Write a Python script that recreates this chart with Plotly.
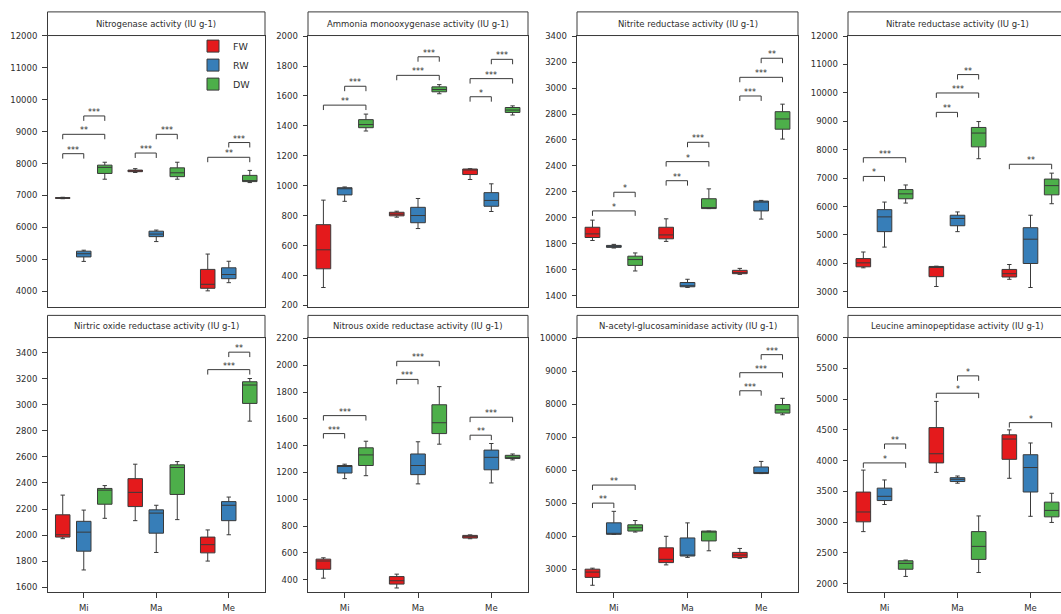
import plotly.graph_objects as go

W, H = 1061, 614

GROUPS = ["Mi", "Ma", "Me"]
TREATMENTS = ["FW", "RW", "DW"]
FILL = {"FW": "#E41A1C", "RW": "#377EB8", "DW": "#4DAF4A"}
OFFSET = {"FW": -0.29, "RW": 0.0, "DW": 0.29}

TITLES = [
    "Nitrogenase activity (IU g-1)",
    "Ammonia monooxygenase activity (IU g-1)",
    "Nitrite reductase activity (IU g-1)",
    "Nitrate reductase activity (IU g-1)",
    "Nirtric oxide reductase activity (IU g-1)",
    "Nitrous oxide reductase activity (IU g-1)",
    "N-acetyl-glucosaminidase activity (IU g-1)",
    "Leucine aminopeptidase activity (IU g-1)",
]

# Five-number summaries per group (Mi, Ma, Me):
# (lower whisker, q1, median, q3, upper whisker)
nitrogenase = {
    "FW": [(6900, 6910, 6925, 6935, 6945), (7720, 7745, 7770, 7795, 7840), (4020, 4100, 4225, 4690, 5170)],
    "RW": [(4940, 5080, 5180, 5260, 5290), (5560, 5715, 5795, 5885, 5920), (4275, 4400, 4530, 4740, 4945)],
    "DW": [(7510, 7690, 7880, 7950, 8040), (7510, 7590, 7710, 7865, 8040), (7405, 7435, 7455, 7630, 7785)],
}
ammonia_monooxygenase = {
    "FW": [(320, 445, 572, 740, 904), (790, 799, 810, 823, 830), (1042, 1075, 1108, 1112, 1114)],
    "RW": [(896, 939, 980, 987, 992), (714, 753, 801, 856, 915), (828, 863, 902, 954, 1013)],
    "DW": [(1366, 1388, 1409, 1442, 1479), (1615, 1628, 1643, 1661, 1676), (1473, 1490, 1506, 1523, 1534)],
}
nitrite_reductase = {
    "FW": [(1825, 1848, 1876, 1927, 1982), (1818, 1838, 1868, 1927, 1992), (1564, 1569, 1577, 1595, 1610)],
    "RW": [(1767, 1772, 1780, 1787, 1795), (1463, 1468, 1476, 1501, 1526), (1990, 2053, 2121, 2129, 2134)],
    "DW": [(1590, 1633, 1678, 1704, 1729), (2071, 2071, 2073, 2147, 2223), (2607, 2683, 2762, 2818, 2876)],
}
nitrate_reductase = {
    "FW": [(3843, 3878, 4017, 4167, 4399), (3184, 3531, 3880, 3890, 3900), (3438, 3519, 3635, 3785, 3959)],
    "RW": [(4572, 5116, 5636, 5891, 6157), (5116, 5324, 5579, 5694, 5810), (3149, 3994, 4850, 5255, 5694)],
    "DW": [(6122, 6273, 6446, 6597, 6759), (7684, 8101, 8587, 8784, 8992), (6099, 6412, 6736, 6967, 7175)],
}
nitric_oxide_reductase = {
    "FW": [(1973, 1985, 2003, 2156, 2307), (2111, 2219, 2328, 2433, 2544), (1801, 1864, 1927, 1985, 2040)],
    "RW": [(1733, 1877, 2023, 2106, 2192), (1867, 2015, 2169, 2194, 2229), (2003, 2111, 2229, 2257, 2292)],
    "DW": [(2129, 2237, 2345, 2358, 2380), (2119, 2312, 2519, 2539, 2564), (2874, 3010, 3151, 3176, 3201)],
}
nitrous_oxide_reductase = {
    "FW": [(412, 478, 540, 554, 564), (339, 368, 393, 424, 442), (706, 711, 721, 731, 735)],
    "RW": [(1154, 1196, 1245, 1252, 1262), (1115, 1184, 1252, 1338, 1429), (1122, 1220, 1313, 1367, 1416)],
    "DW": [(1176, 1252, 1331, 1384, 1433), (1411, 1490, 1571, 1705, 1840), (1294, 1304, 1313, 1328, 1338)],
}
n_acetyl_glucosaminidase = {
    "FW": [(2512, 2751, 2911, 3000, 3030), (3130, 3199, 3298, 3647, 3996), (3329, 3349, 3428, 3508, 3628)],
    "RW": [(4056, 4056, 4076, 4404, 4753), (3357, 3399, 3429, 3946, 4403), (5898, 5898, 5918, 6097, 6266)],
    "DW": [(4125, 4155, 4255, 4344, 4474), (3557, 3856, 4150, 4155, 4155), (7680, 7730, 7829, 7989, 8178)],
}
leucine_aminopeptidase = {
    "FW": [(2846, 3005, 3165, 3489, 3846), (3809, 3963, 4112, 4537, 4963), (3713, 4021, 4351, 4420, 4500)],
    "RW": [(3287, 3351, 3420, 3553, 3686), (3633, 3660, 3697, 3723, 3750), (3095, 3490, 3888, 4096, 4287)],
    "DW": [(2117, 2234, 2330, 2372, 2383), (2181, 2394, 2606, 2846, 3101), (2995, 3086, 3191, 3325, 3469)],
}

# Significance brackets: (group index, treatment A, treatment B, bracket height, label)
nitrogenase_sig = [(0, "FW", "RW", 8308, "***"), (0, "FW", "DW", 8913, "**"), (0, "RW", "DW", 9487, "***"),
                   (1, "FW", "RW", 8328, "***"), (1, "RW", "DW", 8913, "***"),
                   (2, "FW", "DW", 8195, "**"), (2, "RW", "DW", 8656, "***")]
ammonia_monooxygenase_sig = [(0, "FW", "DW", 1539, "**"), (0, "RW", "DW", 1665, "***"),
                             (1, "FW", "DW", 1738, "***"), (1, "RW", "DW", 1862, "***"),
                             (2, "FW", "RW", 1595, "*"), (2, "FW", "DW", 1716, "***"), (2, "RW", "DW", 1845, "***")]
nitrite_reductase_sig = [(0, "FW", "DW", 2053, "*"), (0, "RW", "DW", 2197, "*"),
                         (1, "FW", "RW", 2286, "**"), (1, "FW", "DW", 2433, "*"), (1, "RW", "DW", 2582, "***"),
                         (2, "FW", "RW", 2939, "***"), (2, "FW", "DW", 3083, "***"), (2, "RW", "DW", 3230, "**")]
nitrate_reductase_sig = [(0, "FW", "RW", 7060, "*"), (0, "FW", "DW", 7719, "***"),
                         (1, "FW", "RW", 9316, "**"), (1, "FW", "DW", 9998, "***"), (1, "RW", "DW", 10646, "**"),
                         (2, "FW", "DW", 7488, "**")]
nitric_oxide_reductase_sig = [(2, "FW", "DW", 3269, "***"), (2, "RW", "DW", 3403, "**")]
nitrous_oxide_reductase_sig = [(0, "FW", "RW", 1490, "***"), (0, "FW", "DW", 1624, "***"),
                               (1, "FW", "RW", 1894, "***"), (1, "FW", "DW", 2029, "***"),
                               (2, "FW", "RW", 1478, "**"), (2, "FW", "DW", 1612, "***")]
n_acetyl_glucosaminidase_sig = [(0, "FW", "RW", 5002, "**"), (0, "FW", "DW", 5549, "**"),
                                (2, "FW", "RW", 8407, "***"), (2, "FW", "DW", 8955, "***"), (2, "RW", "DW", 9502, "***")]
leucine_aminopeptidase_sig = [(0, "FW", "DW", 3963, "*"), (0, "RW", "DW", 4271, "**"),
                              (1, "FW", "DW", 5096, "*"), (1, "RW", "DW", 5378, "*"),
                              (2, "FW", "DW", 4618, "*")]

PANELS = [nitrogenase, ammonia_monooxygenase, nitrite_reductase, nitrate_reductase,
          nitric_oxide_reductase, nitrous_oxide_reductase, n_acetyl_glucosaminidase, leucine_aminopeptidase]
SIGS = [nitrogenase_sig, ammonia_monooxygenase_sig, nitrite_reductase_sig, nitrate_reductase_sig,
        nitric_oxide_reductase_sig, nitrous_oxide_reductase_sig, n_acetyl_glucosaminidase_sig,
        leucine_aminopeptidase_sig]

# Axis settings: (range min, range max, tick0, dtick)
Y_AXES = [(3530, 12001, 4000, 1000), (193, 2004, 200, 200), (1316, 3405, 1400, 200), (2480, 12020, 3000, 1000),
          (1562, 3515, 1600, 200), (307, 2206, 400, 200), (2300, 10020, 3000, 1000), (1860, 6001, 2000, 500)]

# Panel geometry in pixels
COLS_X = [(47.5, 265.0), (308.0, 528.0), (577.0, 798.0), (848.0, 1067.0)]
ROWS_Y = [(31.0, 306.0), (337.5, 596.0)]
STRIP_TOP = [7.0, 315.0]

LINE = "#3a3a3a"
TEXT = "#2e2e2e"
FONT = "DejaVu Sans"

fig = go.Figure()
layout = {}
shapes, annotations = [], []

for i, (stats, sigs, title) in enumerate(zip(PANELS, SIGS, TITLES)):
    n = i + 1
    row, col = divmod(i, 4)
    x0p, x1p = COLS_X[col]
    y0p, y1p = ROWS_Y[row]
    vis_x1 = min(x1p, W)
    xr_max = -0.5 + 3.0 * (vis_x1 - x0p) / (x1p - x0p)
    xname = "x" if n == 1 else f"x{n}"
    yname = "y" if n == 1 else f"y{n}"

    for t in TREATMENTS:
        s = stats[t]
        fig.add_trace(go.Box(
            x=[g + OFFSET[t] for g in range(len(GROUPS))],
            lowerfence=[v[0] for v in s], q1=[v[1] for v in s], median=[v[2] for v in s],
            q3=[v[3] for v in s], upperfence=[v[4] for v in s],
            name=t, legendgroup=t, showlegend=(n == 1),
            fillcolor=FILL[t], line=dict(color=LINE, width=1),
            width=0.2, whiskerwidth=0.3, boxpoints=False,
            xaxis=xname, yaxis=yname, hoverinfo="skip",
        ))

    ymin, ymax, t0, dt = Y_AXES[i]
    layout["xaxis" if n == 1 else f"xaxis{n}"] = dict(
        domain=[x0p / W, vis_x1 / W], range=[-0.5, xr_max], type="linear",
        anchor=yname, showgrid=False, zeroline=False,
        showline=True, mirror=True, linecolor=LINE, linewidth=1,
        tickvals=list(range(len(GROUPS))), ticktext=GROUPS,
        ticks="outside" if row == 1 else "", ticklen=4.5, tickcolor=LINE,
        ticklabelstandoff=3,
        showticklabels=(row == 1), tickfont=dict(family=FONT, size=8.5, color=TEXT),
        fixedrange=True,
    )
    layout["yaxis" if n == 1 else f"yaxis{n}"] = dict(
        domain=[1 - y1p / H, 1 - y0p / H], range=[ymin, ymax],
        anchor=xname, showgrid=False, zeroline=False,
        showline=True, mirror=(col != 3), linecolor=LINE, linewidth=1,
        ticks="outside", ticklen=4.5, tickcolor=LINE, tick0=t0, dtick=dt,
        tickformat="d", exponentformat="none", ticklabelstandoff=3,
        tickfont=dict(family=FONT, size=8.5, color=TEXT), fixedrange=True,
    )

    # title strip above each panel
    shapes.append(dict(type="rect", xref="paper", yref="paper",
                       x0=x0p / W, x1=x1p / W, y0=1 - y0p / H, y1=1 - STRIP_TOP[row] / H,
                       line=dict(color=LINE, width=1), fillcolor="white", layer="above"))
    annotations.append(dict(xref="paper", yref="paper", x=(x0p + x1p) / 2 / W,
                            y=1 - (y0p + STRIP_TOP[row]) / 2 / H, text=title, showarrow=False,
                            xanchor="center", yanchor="middle",
                            font=dict(family=FONT, size=8.5, color=TEXT)))

    # significance brackets
    drop = 5.0 * (ymax - ymin) / (y1p - y0p)
    for g, a, b, h, lab in sigs:
        xa, xb = g + OFFSET[a], g + OFFSET[b]
        shapes.append(dict(type="path", xref=xname, yref=yname,
                           path=f"M {xa},{h - drop} L {xa},{h} L {xb},{h} L {xb},{h - drop}",
                           line=dict(color=LINE, width=1)))
        annotations.append(dict(xref=xname, yref=yname, x=(xa + xb) / 2, y=h, text=lab,
                                showarrow=False, xanchor="center", yanchor="bottom", yshift=-3,
                                font=dict(family=FONT, size=8, color=TEXT)))

fig.update_layout(
    width=W, height=H, margin=dict(l=0, r=0, t=0, b=0),
    paper_bgcolor="white", plot_bgcolor="white",
    font=dict(family=FONT, size=9, color=TEXT),
    boxmode="overlay",
    legend=dict(x=193 / W, y=1 - 27 / H, xanchor="left", yanchor="top",
                font=dict(family=FONT, size=9.5, color=TEXT), bgcolor="rgba(0,0,0,0)",
                tracegroupgap=0),
    shapes=shapes, annotations=annotations,
    **layout,
)

fig.write_html("out.html")
